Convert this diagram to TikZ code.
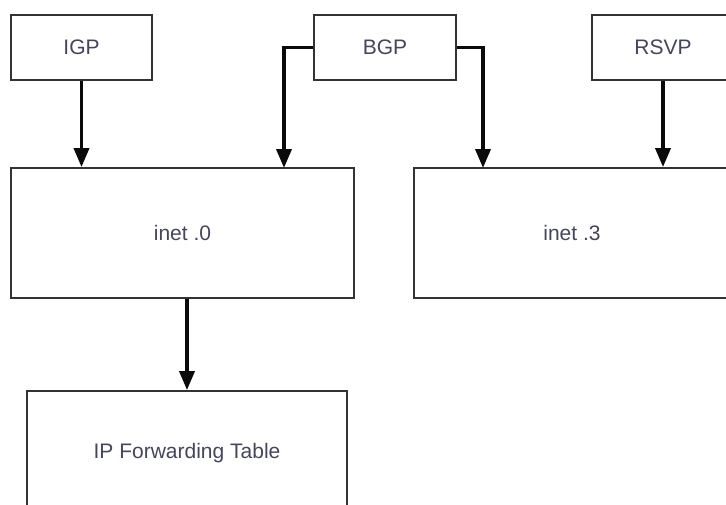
\documentclass[tikz,border=0pt]{standalone}
\usepackage{fontspec}
\setmainfont{Liberation Sans}
\usetikzlibrary{arrows.meta,positioning}
\definecolor{rtink}{HTML}{0A0A0A}
\definecolor{rtedge}{HTML}{333333}
\definecolor{rttext}{HTML}{45455E}
\tikzset{
  bx/.style={draw=rtedge, line width=1.8pt, fill=white, font=\fontsize{21}{24}\selectfont, text=rttext, inner sep=0pt},
  arr/.style={-{Triangle[length=19pt, width=15pt]}, line width=3.6pt, color=rtink},
}
\begin{document}
\begin{tikzpicture}[x=1pt, y=-1pt]
    \useasboundingbox (0,0) rectangle (726,504);
    \clip (0,0) rectangle (726,504);
    % protocols on top
    \node[bx, minimum width=141pt, minimum height=65pt] (igp) at (81.5,47.5) {IGP};
    \node[bx, minimum width=142pt, minimum height=65pt] (bgp) at (385,47.5) {BGP};
    \node[bx, minimum width=142pt, minimum height=65pt] (rsvp) at (663,47.5) {RSVP};
    % routing tables
    \node[bx, minimum width=343pt, minimum height=130pt] (inet0) at (182.5,233) {inet .0};
    \node[bx, minimum width=316pt, minimum height=130pt] (inet3) at (572,233) {inet .3};
    \node[bx, minimum width=320pt, minimum height=124pt] (ipft) at (187,453) {IP Forwarding Table};
    \coordinate (bgpl) at (284,168);
    \coordinate (bgpr) at (483,168);
    \draw[arr] (igp.south) -- (igp.south |- inet0.north);
    \draw[arr] (bgp.west) -| (bgpl);
    \draw[arr] (bgp.east) -| (bgpr);
    \draw[arr] (rsvp.south) -- (rsvp.south |- inet3.north);
    \draw[arr] (ipft.north |- inet0.south) -- (ipft.north);
  \end{tikzpicture}
\end{document}
